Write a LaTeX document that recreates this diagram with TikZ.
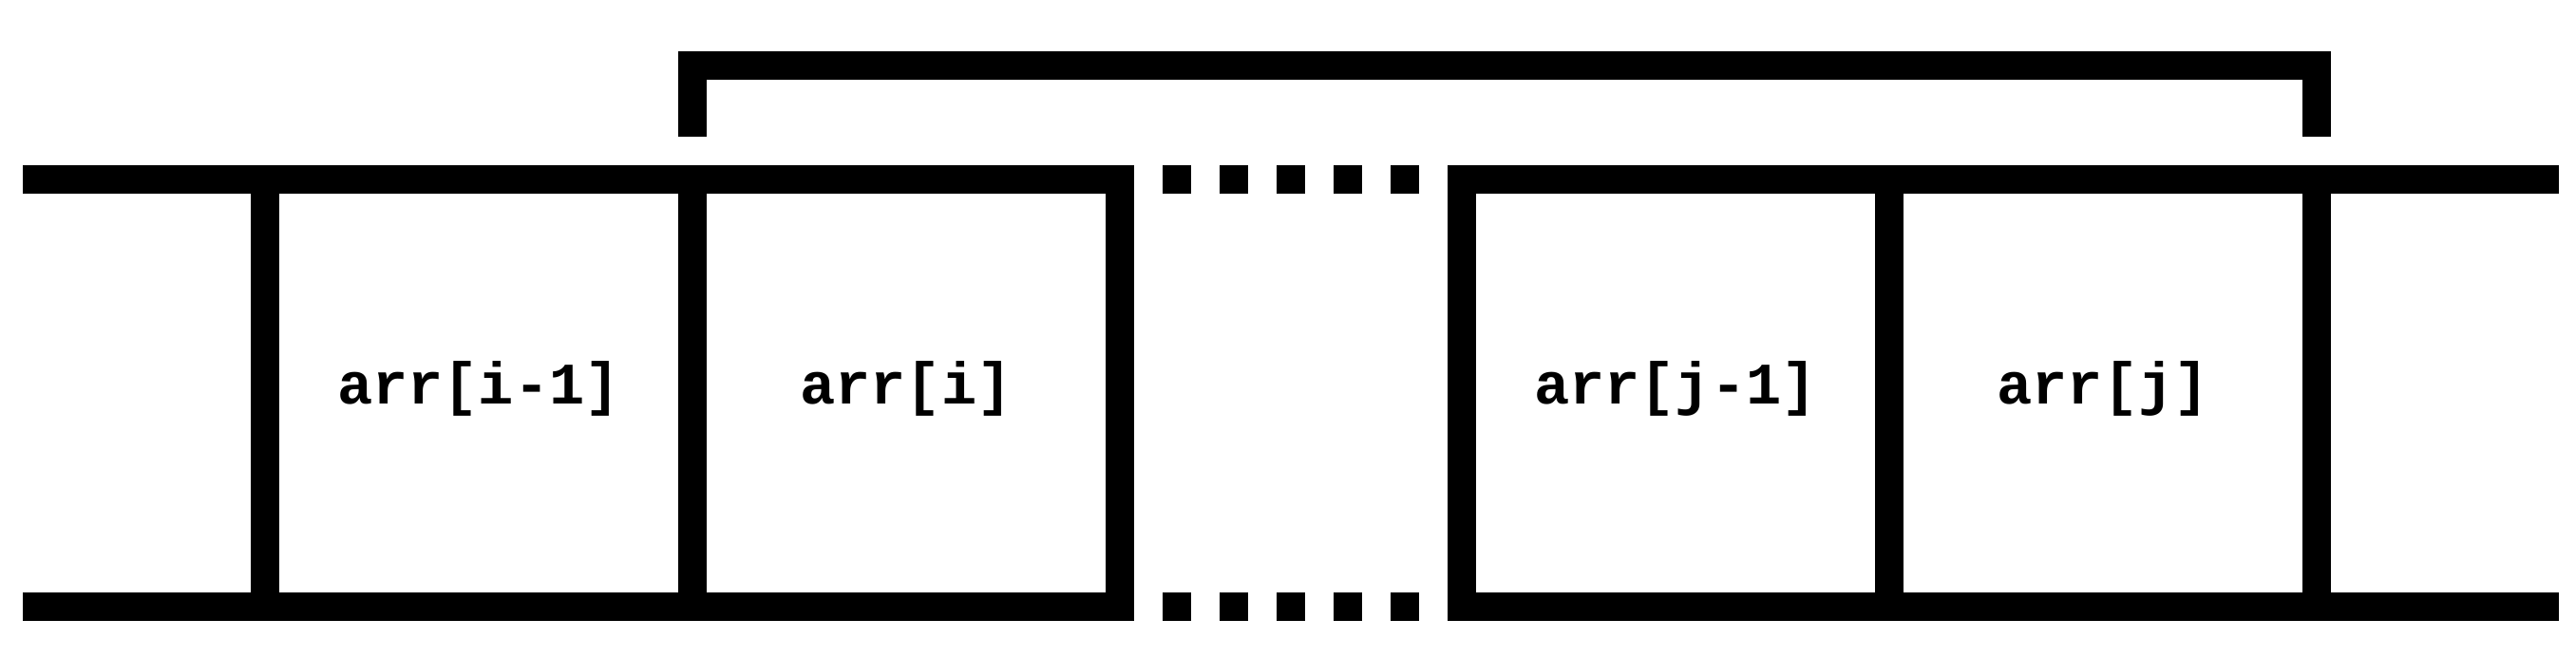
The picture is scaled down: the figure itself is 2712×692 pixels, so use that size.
\documentclass[tikz,border=0pt]{standalone}
\usepackage{fontspec}
\setmonofont{Liberation Mono}
\begin{document}
\begin{tikzpicture}[x=1pt,y=-1pt,
  rail/.style={line width=30pt, line cap=butt, line join=miter},
  lbl/.style={font=\ttfamily\bfseries\fontsize{62}{70}\selectfont, inner sep=0pt, anchor=center},
  dotsq/.style={fill=black, draw=none, minimum size=30pt, inner sep=0pt, outer sep=0pt, rectangle}]
\useasboundingbox (0,0) rectangle (2712,692);
% section 1
\draw[rail] (24,189) -- (1179,189) -- (1179,639) -- (24,639);
\draw[rail] (279,189) -- (279,639);
\draw[rail] (729,189) -- (729,639);
% section 2
\draw[rail] (2694,189) -- (1539,189) -- (1539,639) -- (2694,639);
\draw[rail] (1989,189) -- (1989,639);
\draw[rail] (2439,189) -- (2439,639);
% bracket
\draw[rail] (729,144) -- (729,69) -- (2439,69) -- (2439,144);
% dots
\foreach \i/\x in {1/1239,2/1299,3/1359,4/1419,5/1479}{
  \node[dotsq] (dt\i) at (\x,189) {};
  \node[dotsq] (db\i) at (\x,639) {};
}
% labels
\node[lbl] (c1) at (504,409) {arr[i-1]};
\node[lbl] (c2) at (954,409) {arr[i]};
\node[lbl] (c3) at (1764,409) {arr[j-1]};
\node[lbl] (c4) at (2214,409) {arr[j]};
\end{tikzpicture}
\end{document}
